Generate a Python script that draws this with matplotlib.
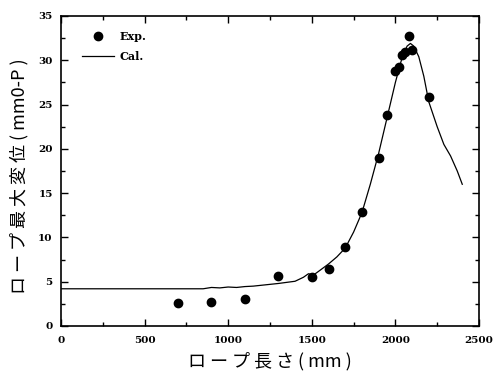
import matplotlib
import matplotlib.pyplot as plt
from matplotlib.ticker import MultipleLocator
matplotlib.use('Agg')

plt.rcParams['font.family'] = ['Noto Sans CJK JP', 'DejaVu Sans']

# measured points
exp_x = [700, 900, 1100, 1300, 1500, 1600, 1700, 1800, 1900, 1950, 2000, 2020, 2040, 2055, 2080, 2100, 2200]
exp_y = [2.6, 2.75, 3.0, 5.65, 5.55, 6.4, 8.95, 12.85, 19.0, 23.8, 28.8, 29.2, 30.6, 30.9, 32.7, 31.2, 25.8]

# calculated curve
cal_x = [0, 850, 900, 950, 1000, 1050, 1100, 1150, 1200, 1300, 1400, 1450, 1480, 1510,
         1550, 1600, 1650, 1700, 1750, 1800, 1850, 1900, 1950, 2000, 2040, 2070, 2090,
         2110, 2140, 2170, 2200, 2250, 2290, 2330, 2370, 2400]
cal_y = [4.2, 4.2, 4.35, 4.3, 4.4, 4.35, 4.45, 4.5, 4.6, 4.8, 5.05, 5.5, 5.9, 5.75,
         6.3, 7.0, 7.8, 8.8, 10.6, 12.8, 16.0, 19.5, 23.5, 27.5, 30.3, 31.6, 31.9,
         31.6, 30.4, 28.2, 25.3, 22.5, 20.5, 19.2, 17.5, 16.0]

fig = plt.figure(figsize=(4.94, 3.72), dpi=100)
ax = fig.add_axes([0.1235, 0.1237, 0.8461, 0.8333])

ax.plot(exp_x, exp_y, 'o', color='black', markersize=6, label='Exp.')
ax.plot(cal_x, cal_y, '-', color='black', linewidth=0.9, label='Cal.')

ax.set_xlim(0, 2500)
ax.set_ylim(0, 35)
ax.xaxis.set_major_locator(MultipleLocator(500))
ax.xaxis.set_minor_locator(MultipleLocator(250))
ax.yaxis.set_major_locator(MultipleLocator(5))
ax.yaxis.set_minor_locator(MultipleLocator(2.5))
ax.tick_params(which='both', direction='in', top=True, right=True, width=1)
ax.tick_params(which='major', length=5)
ax.tick_params(axis='x', which='major', pad=7)
ax.tick_params(axis='y', which='major', pad=6)
ax.tick_params(which='minor', length=3)
for s in ax.spines.values():
    s.set_linewidth(1.2)
for lbl in ax.get_xticklabels() + ax.get_yticklabels():
    lbl.set_family('DejaVu Serif')
    lbl.set_fontweight('bold')
    lbl.set_fontsize(7.5)

ax.set_xlabel('ロ ー プ 長 さ ( mm )', fontsize=13, labelpad=5)
ax.set_ylabel('ロ ー プ 最 大 変 位 ( mm0-P )', fontsize=13)
ax.yaxis.set_label_coords(-0.077, 0.482)

leg = ax.legend(loc='upper left', frameon=False, handlelength=2.9,
                prop={'family': 'DejaVu Serif', 'weight': 'bold', 'size': 8},
                bbox_to_anchor=(0.04, 0.965), borderaxespad=0, handletextpad=0.45,
                labelspacing=0.8)

fig.savefig('out.png', dpi=100)
